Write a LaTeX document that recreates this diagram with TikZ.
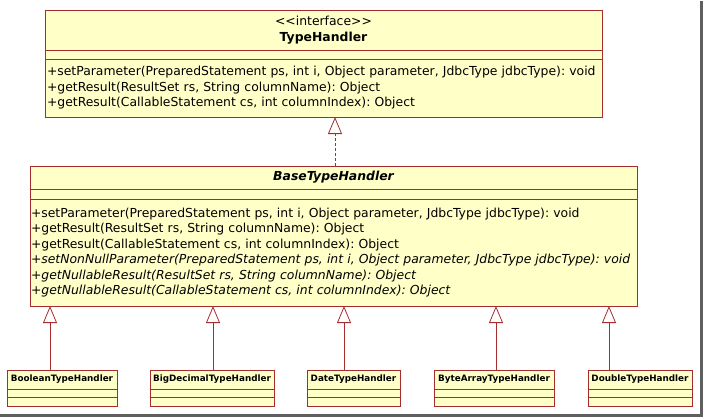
\documentclass[tikz,border=0pt]{standalone}
\usepackage{fontspec}
\setmainfont{DejaVu Sans}
\usetikzlibrary{arrows.meta, positioning}
\definecolor{umlFill}{RGB}{255,255,200}
\definecolor{umlLine}{RGB}{165,45,45}
\definecolor{shadowGray}{RGB}{95,95,95}
\frenchspacing

\begin{document}
\begin{tikzpicture}[x=1pt, y=-1pt,
  cls/.style={draw=umlLine,fill=umlFill,line width=0.8pt,inner sep=0pt,
    outer sep=0pt,anchor=north west,font=\fontsize{12.4}{15.5}\selectfont},
  sub/.style={cls,font=\fontsize{8.8}{10}\selectfont\bfseries},
  gen/.style={-{Triangle[open,length=17pt,width=14pt]},draw=umlLine,line width=0.8pt},
  real/.style={gen,dash pattern=on 3pt off 2pt},
  frame/.style={shadowGray,line width=2.5pt},
]
\useasboundingbox (0,0) rectangle (704,418);

% Interface
\node[cls, minimum width=557, minimum height=40, align=center] (th) at (45,10)
  {<{}<interface>{}>\\\textbf{TypeHandler}};
\node[cls, minimum width=557, minimum height=9, below=0pt of th] (thattr) {};
\node[cls, minimum width=557, minimum height=58, text width=553, align=left,
  below=0pt of thattr] (thops)
  {+setParameter(PreparedStatement ps, int i, Object parameter, JdbcType jdbcType): void\\
   +getResult(ResultSet rs, String columnName): Object\\
   +getResult(CallableStatement cs, int columnIndex): Object};

% Abstract base class
\node[cls, minimum width=607, minimum height=23, font=\fontsize{12.4}{15.5}\selectfont\bfseries\itshape]
  (base) at (30,166) {BaseTypeHandler};
\node[cls, minimum width=607, minimum height=10, below=0pt of base] (baseattr) {};
\node[cls, minimum width=607, minimum height=107, text width=605, align=left,
  below=0pt of baseattr] (baseops)
  {+setParameter(PreparedStatement ps, int i, Object parameter, JdbcType jdbcType): void\\
   +getResult(ResultSet rs, String columnName): Object\\
   +getResult(CallableStatement cs, int columnIndex): Object\\
   \textit{+setNonNullParameter(PreparedStatement ps, int i, Object parameter, JdbcType jdbcType): void}\\
   \textit{+getNullableResult(ResultSet rs, String columnName): Object}\\
   \textit{+getNullableResult(CallableStatement cs, int columnIndex): Object}};

% Concrete handlers
\node[sub, minimum width=110, minimum height=19] (bool) at (7,370) {BooleanTypeHandler};
\node[sub, minimum width=110, minimum height=8, below=0pt of bool] (boolattr) {};
\node[sub, minimum width=110, minimum height=9, below=0pt of boolattr] (boolops) {};

\node[sub, minimum width=124, minimum height=19] (bigdec) at (150,370) {BigDecimalTypeHandler};
\node[sub, minimum width=124, minimum height=8, below=0pt of bigdec] (bigdecattr) {};
\node[sub, minimum width=124, minimum height=9, below=0pt of bigdecattr] (bigdecops) {};

\node[sub, minimum width=93, minimum height=19] (date) at (307,370) {DateTypeHandler};
\node[sub, minimum width=93, minimum height=8, below=0pt of date] (dateattr) {};
\node[sub, minimum width=93, minimum height=9, below=0pt of dateattr] (dateops) {};

\node[sub, minimum width=120, minimum height=19] (bytes) at (434,370) {ByteArrayTypeHandler};
\node[sub, minimum width=120, minimum height=8, below=0pt of bytes] (bytesattr) {};
\node[sub, minimum width=120, minimum height=9, below=0pt of bytesattr] (bytesops) {};

\node[sub, minimum width=104, minimum height=19] (dbl) at (588,370) {DoubleTypeHandler};
\node[sub, minimum width=104, minimum height=8, below=0pt of dbl] (dblattr) {};
\node[sub, minimum width=104, minimum height=9, below=0pt of dblattr] (dblops) {};

% Realization
\draw[real] ([xshift=1.5]base.north) -- ([xshift=1.5]base.north |- thops.south);

% Generalizations
\draw[gen] ([xshift=-12]bool.north) -- ([xshift=-12]bool.north |- baseops.south);
\draw[gen] ([xshift=1]bigdec.north) -- ([xshift=1]bigdec.north |- baseops.south);
\draw[gen] ([xshift=-9.5]date.north) -- ([xshift=-9.5]date.north |- baseops.south);
\draw[gen] ([xshift=2]bytes.north) -- ([xshift=2]bytes.north |- baseops.south);
\draw[gen] ([xshift=-31]dbl.north) -- ([xshift=-31]dbl.north |- baseops.south);

% Window shadow
\draw[frame] (0,415.5) -- (701.5,415.5) -- (701.5,1);
\end{tikzpicture}
\end{document}
